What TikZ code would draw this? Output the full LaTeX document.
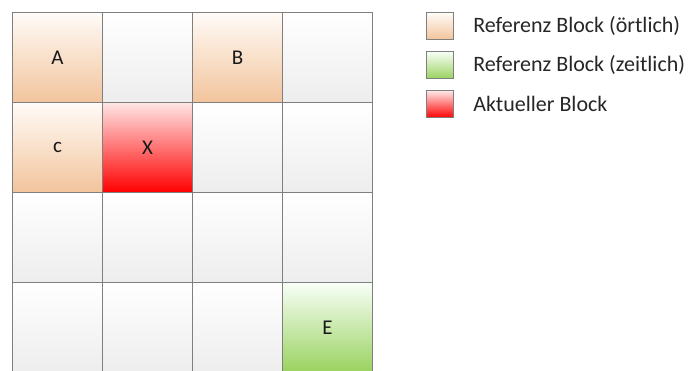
\documentclass[tikz,border=0pt]{standalone}
\usepackage{fontspec}
\setmainfont{Carlito}
\usepackage{xcolor}
\usetikzlibrary{positioning}
\definecolor{rahmen}{HTML}{7F7F7F}
\tikzset{
  ortf/.style={top color=orange!3!white, bottom color={rgb,255:red,242;green,196;blue,156}},
  zeitf/.style={top color=green!3!white, bottom color={rgb,255:red,154;green,210;blue,95}},
  aktf/.style={top color=red!10!white, bottom color=red},
  cell/.style={draw=rahmen, line width=1.4pt, minimum size=90pt, inner sep=0pt,
    outer sep=0pt, font=\fontsize{21}{24}\selectfont, text=black!90},
  leer/.style={cell, top color=white, bottom color=black!7},
  ort/.style={cell, ortf},
  zeit/.style={cell, zeitf},
  akt/.style={cell, aktf},
  legbox/.style={minimum size=27pt, inner sep=0pt, line width=1.2pt, draw=rahmen},
  legtxt/.style={anchor=west, inner sep=0pt, font=\fontsize{22}{25}\selectfont, text=black!85}
}

\begin{document}
\begin{tikzpicture}[x=1pt, y=1pt, node distance=11pt and 19pt]
  \useasboundingbox (0,0) rectangle (691,371);
  % 4x4 Bloecke, Zeile \r, Spalte \c
  \foreach \c/\r/\s/\t in {0/0/ort/A, 1/0/leer/, 2/0/ort/B, 3/0/leer/,
                           0/1/ort/c, 1/1/akt/X, 2/1/leer/, 3/1/leer/,
                           0/2/leer/, 1/2/leer/, 2/2/leer/, 3/2/leer/,
                           0/3/leer/, 1/3/leer/, 2/3/leer/, 3/3/zeit/E}
    \node[\s] (b\r\c) at (57.5+90*\c, 313.5-90*\r) {\t};

  % Legende
  \node[legbox, ortf] at (440,345) (lort) {};
  \node[legbox, zeitf, below=of lort] (lzeit) {};
  \node[legbox, aktf, below=of lzeit] (lakt) {};
  \node[legtxt, right=of lort] (tort) {Referenz Block (örtlich)};
  \node[legtxt, right=of lzeit] (tzeit) {Referenz Block (zeitlich)};
  \node[legtxt, right=of lakt] (takt) {Aktueller Block};
\end{tikzpicture}
\end{document}
